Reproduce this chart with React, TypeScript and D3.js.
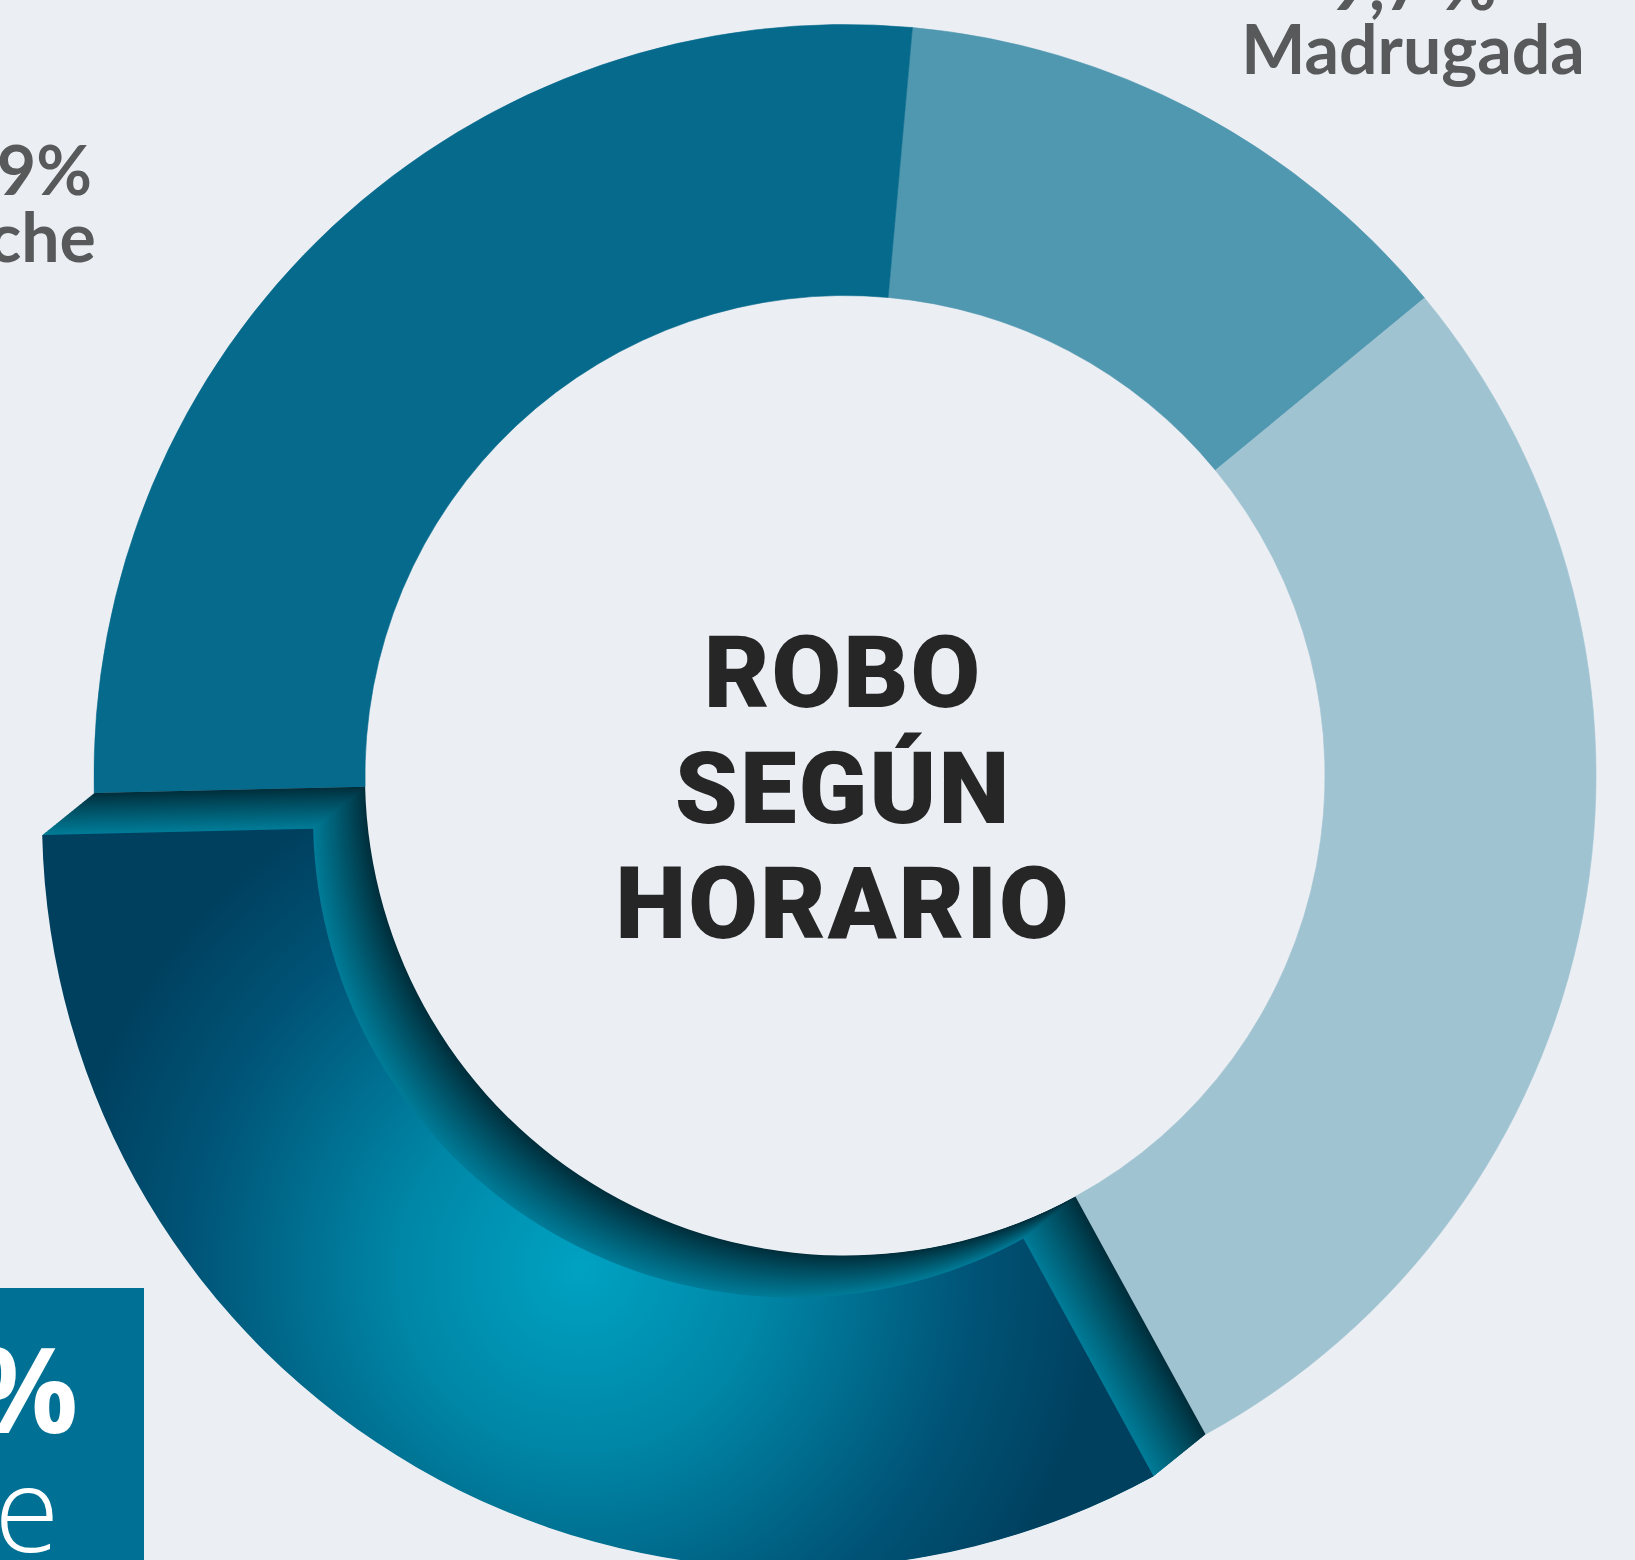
import React from "react";
import * as d3 from "d3";

const W = 1635;
const H = 1560;

const categories = ["Madrugada", "Mañana", "Tarde", "Noche"];
const values = [12.6, 28.0, 32.6, 26.8];
const percentLabels = ["9,7 %", "", "32,6%", "26,9%"];
const sliceColors = ["#5097b0", "#a0c3d1", "#00405f", "#056a8c"];
const explodedCategory = "Tarde";
const titleLines = ["ROBO", "SEGÚN", "HORARIO"];

const CX = 845;
const CY = 775.5;
const R_OUT = 751;
const R_IN = 480;
const START_DEG = 5.15;
const EXPLODE = { dx: -52, dy: 42 };
const STEPS = 72;

export default function App() {
  const pie = d3
    .pie<number>()
    .sort(null)
    .startAngle((START_DEG * Math.PI) / 180)
    .endAngle((START_DEG * Math.PI) / 180 + 2 * Math.PI);
  const arcs = pie(values);
  const arcGen = d3.arc<d3.PieArcDatum<number>>().innerRadius(R_IN).outerRadius(R_OUT);
  const exIdx = categories.indexOf(explodedCategory);
  const sideColor = d3.interpolateRgb("#002e3b", "#007d99");
  const stack = d3.range(STEPS).map((i) => i / STEPS);

  const labelFont = "Lato, 'Noto Sans', sans-serif";

  return (
    <svg
      width={W}
      height={H}
      viewBox={`0 0 ${W} ${H}`}
      style={{ position: "absolute", left: 0, top: 0, display: "block" }}
    >
      <defs>
        <radialGradient
          id="faceGrad"
          gradientUnits="userSpaceOnUse"
          cx={-213}
          cy={452}
          r={520}
        >
          <stop offset="0" stopColor="#00a2c2" />
          <stop offset="0.35" stopColor="#0086a6" />
          <stop offset="0.75" stopColor="#005477" />
          <stop offset="1" stopColor="#00405f" />
        </radialGradient>
      </defs>
      <rect x={0} y={0} width={W} height={H} fill="#ebeff4" />
      <g transform={`translate(${CX},${CY})`}>
        {arcs.map((a, i) =>
          i === exIdx ? null : (
            <path key={categories[i]} d={arcGen(a) || ""} fill={sliceColors[i]} stroke={sliceColors[i]} strokeWidth={0.6} />
          )
        )}
        {stack.map((t) => (
          <path
            key={"s" + t}
            d={arcGen(arcs[exIdx]) || ""}
            transform={`translate(${EXPLODE.dx * t},${EXPLODE.dy * t})`}
            fill={sideColor(Math.pow(t, 0.9))}
          />
        ))}
        <path
          d={arcGen(arcs[exIdx]) || ""}
          transform={`translate(${EXPLODE.dx},${EXPLODE.dy})`}
          fill="url(#faceGrad)"
        />
      </g>

      {/* centre title */}
      <g
        fontFamily="Roboto, Inter, sans-serif"
        fontWeight={900}
        fontSize={101}
        fill="#262626"
        textAnchor="middle"
        letterSpacing={2}
      >
        {titleLines.map((l, i) => (
          <text key={l} x={843} y={707 + i * 115.5}>
            {l}
          </text>
        ))}
      </g>

      {/* Madrugada label */}
      <g fontFamily={labelFont} fontWeight={700} fontSize={68} fill="#58595b" textAnchor="middle">
        <text x={1413} y={10}>{percentLabels[0]}</text>
        <text x={1413} y={74}>{categories[0]}</text>
      </g>

      {/* Noche label */}
      <g fontFamily={labelFont} fontWeight={700} fontSize={68} fill="#58595b" textAnchor="middle">
        <text x={-3} y={195}>{percentLabels[3]}</text>
        <text x={-3} y={262}>{categories[3]}</text>
      </g>

      {/* Tarde label box */}
      <rect x={-400} y={1288} width={544} height={400} fill="#007194" />
      <g fontFamily="'Open Sans', 'Noto Sans', sans-serif" fill="#ffffff" textAnchor="start" fontSize={118}>
        <text x={-264} y={1433} fontWeight={700}>{percentLabels[2]}</text>
        <text x={-246} y={1552} fontWeight={300}>{categories[2]}</text>
      </g>
    </svg>
  );
}
